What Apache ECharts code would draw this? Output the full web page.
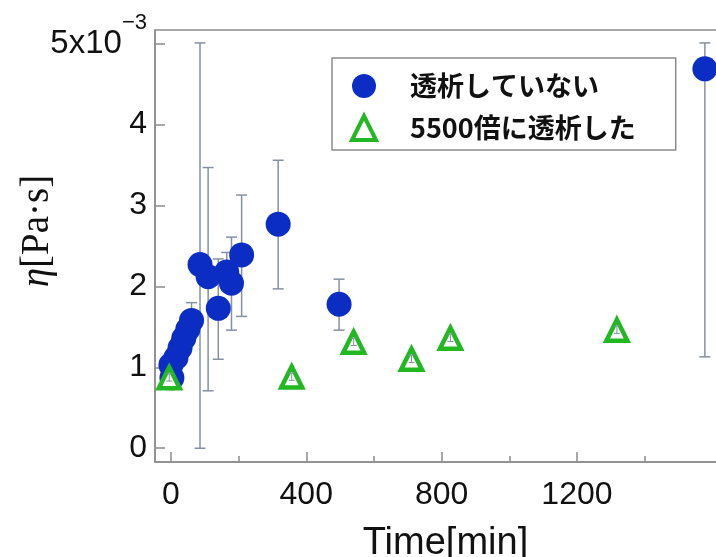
<!DOCTYPE html>
<html><head><meta charset="utf-8">
<script src="https://cdn.jsdelivr.net/npm/echarts@6/dist/echarts.min.js"></script>
<style>html,body{margin:0;padding:0;background:#fff}#c{width:716px;height:557px}</style>
</head><body><div id="c"></div>
<script>
// ---- data ----
const seriesNames = ['透析していない', '5500倍に透析した'];
const blueX  = [0, 3, 15, 27, 38, 50, 61, 86, 110, 140, 165, 179, 209, 317, 497, 1578];
const blueY  = [1.03, 0.87, 1.12, 1.24, 1.36, 1.47, 1.58, 2.27, 2.12, 1.73, 2.18, 2.04, 2.39, 2.77, 1.78, 4.69];
const blueLo = [0.95, 0.80, 1.02, 1.12, 1.22, 1.33, 1.40, 0.00, 0.71, 1.10, 1.95, 1.46, 1.63, 1.97, 1.46, 1.13];
const blueHi = [1.10, 0.95, 1.22, 1.36, 1.50, 1.62, 1.80, 5.01, 3.47, 2.34, 2.42, 2.61, 3.13, 3.56, 2.09, 5.01];
const greenX  = [-5, 357, 540, 711, 826, 1318];
const greenY  = [0.87, 0.88, 1.31, 1.10, 1.36, 1.46];
const greenLo = [0.83, 0.84, 1.27, 1.06, 1.32, 1.42];
const greenHi = [0.92, 0.93, 1.36, 1.15, 1.41, 1.51];
const xLabelTicks = [0, 400, 800, 1200];
const xMajorTicks = [0, 400, 800, 1200];
const xMinorTicks = [200, 600, 1000, 1400];
const yTicks = [0, 1, 2, 3, 4, 5];
const xTitle = 'Time[min]';
const yTitle = '{i|η}[Pa·s]';

// ---- chart ----
const BLUE = '#0b2dc4', GREEN = '#22b822', ERR = '#8790a3', AX = '#8c8c8c';
const chart = echarts.init(document.getElementById('c'));

function errBar(color, cap, lw) {
  return function (params, api) {
    const x = api.value(0), lo = api.value(1), hi = api.value(2);
    const a = api.coord([x, lo]), b = api.coord([x, hi]);
    const st = { stroke: color, lineWidth: lw };
    return { type: 'group', children: [
      { type: 'line', shape: { x1: a[0], y1: a[1], x2: b[0], y2: b[1] }, style: st },
      { type: 'line', shape: { x1: b[0] - cap, y1: b[1], x2: b[0] + cap, y2: b[1] }, style: st },
      { type: 'line', shape: { x1: a[0] - cap, y1: a[1], x2: a[0] + cap, y2: a[1] }, style: st }
    ]};
  };
}

const xMin = -47, xMax = 1670, yMin = -0.17, yMax = 5.17;

chart.setOption({
  animation: false,
  backgroundColor: '#fff',
  grid: { left: 155, top: 30, right: -20, bottom: 95, show: true, borderColor: AX, borderWidth: 1.5,
          containLabel: false, outerBoundsMode: 'none' },
  legend: {
    data: [{ name: seriesNames[0] }, { name: seriesNames[1], itemStyle: { borderWidth: 4, borderColor: GREEN, color: '#fff' } }],
    orient: 'vertical', left: 332, top: 58,
    itemWidth: 24, itemHeight: 24, itemGap: 12,
    padding: [13, 40, 7, 18],
    borderColor: AX, borderWidth: 1.5, backgroundColor: '#fff',
    textStyle: { fontFamily: 'Noto Sans CJK JP', fontWeight: 'bold', fontSize: 27, color: '#111', lineHeight: 30, padding: [0, 0, 0, 29] }
  },
  xAxis: [{
    type: 'value', position: 'bottom', min: xMin, max: xMax,
    name: xTitle, nameLocation: 'middle', nameGap: 63,
    nameTextStyle: { fontFamily: 'Liberation Sans', fontSize: 38, color: '#111' },
    axisLine: { onZero: false, lineStyle: { color: AX, width: 1.5 } },
    axisTick: { inside: true, length: 10, customValues: xMajorTicks, lineStyle: { color: AX, width: 1.5 } },
    axisLabel: { customValues: xLabelTicks, margin: 17, fontFamily: 'Liberation Sans', fontSize: 32, color: '#111',
                 formatter: v => String(v) },
    splitLine: { show: false }
  }, {
    type: 'value', position: 'bottom', min: xMin, max: xMax,
    axisLine: { show: false, onZero: false },
    axisTick: { inside: true, length: 6, customValues: xMinorTicks, lineStyle: { color: AX, width: 1.5 } },
    axisLabel: { show: false },
    splitLine: { show: false }
  }],
  yAxis: {
    type: 'value', min: yMin, max: yMax,
    axisLine: { show: true, onZero: false, lineStyle: { color: AX, width: 1.5 } },
    axisTick: { show: true, inside: true, length: 10, customValues: yTicks, lineStyle: { color: AX, width: 1.5 } },
    axisLabel: {
      customValues: yTicks, margin: 8, fontFamily: 'Liberation Sans', fontSize: 32, color: '#111',
      formatter: v => v === 5 ? '{n|5x10}{s|−3}' : String(v),
      rich: {
        n: { fontFamily: 'Liberation Sans', fontSize: 33, color: '#111', lineHeight: 64 },
        s: { fontFamily: 'Liberation Sans', fontSize: 22, color: '#111', lineHeight: 20, verticalAlign: 'top' }
      }
    },
    splitLine: { show: false }
  },
  graphic: [{
    type: 'text', x: 38, y: 231, rotation: Math.PI / 2,
    style: {
      text: yTitle, fontFamily: 'Liberation Serif', fontSize: 39, fill: '#111',
      align: 'center', verticalAlign: 'middle',
      rich: { i: { fontFamily: 'Liberation Serif', fontStyle: 'italic', fontSize: 39, fill: '#111' } }
    }
  }],
  series: [
    { type: 'custom', name: 'blueErr', z: 1, renderItem: errBar(ERR, 5.5, 1.5), encode: { x: 0, y: [1, 2] },
      data: blueX.map((x, i) => [x, blueLo[i], blueHi[i]]), silent: true },
    { type: 'scatter', name: seriesNames[0], z: 2, symbol: 'circle', symbolSize: 25,
      itemStyle: { color: BLUE, opacity: 1 },
      data: blueX.map((x, i) => [x, blueY[i]]) },
    { type: 'scatter', name: seriesNames[1], z: 3, symbol: 'triangle', symbolSize: 21,
      itemStyle: { color: '#fff', borderColor: GREEN, borderWidth: 4.5, opacity: 1 },
      data: greenX.map((x, i) => [x, greenY[i]]) },
    { type: 'custom', name: 'greenErr', z: 4, renderItem: errBar(ERR, 3, 1), encode: { x: 0, y: [1, 2] },
      data: greenX.map((x, i) => [x, greenLo[i], greenHi[i]]), silent: true }
  ]
});
</script></body></html>
